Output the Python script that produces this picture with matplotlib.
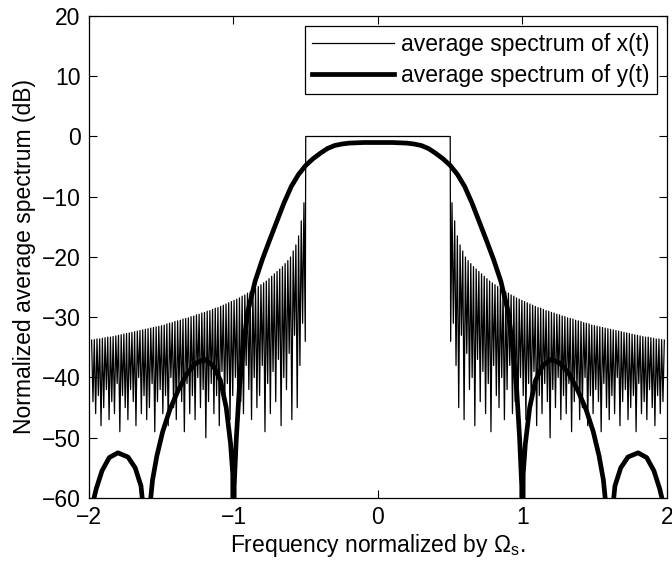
import numpy as np
import matplotlib
matplotlib.use('Agg')
import matplotlib.pyplot as plt

plt.rcParams['font.family'] = ['Liberation Sans', 'DejaVu Sans']
plt.rcParams['mathtext.fontset'] = 'custom'
plt.rcParams['mathtext.rm'] = 'Liberation Sans'
plt.rcParams['mathtext.it'] = 'Liberation Sans:italic'

# sidelobes of x(t), right side from the band edge outwards (mirrored to the left)
x_peaks_db = [-11, -14, -16.5, -18, -19, -20, -20.6, -21.1, -21.6, -22,
              -22.4, -22.8, -23.2, -23.6, -24, -24.3, -24.6, -24.9, -25.2, -25.5,
              -25.8, -26, -26.3, -26.5, -26.8, -27, -27.2, -27.4, -27.6, -27.8,
              -28, -28.2, -28.4, -28.5, -28.7, -28.9, -29, -29.2, -29.3, -29.5,
              -29.6, -29.8, -29.9, -30.1, -30.2, -30.3, -30.5, -30.6, -30.7, -30.9,
              -31, -31.1, -31.3, -31.4, -31.5, -31.6, -31.7, -31.8, -31.9, -32,
              -32.1, -32.2, -32.3, -32.4, -32.5, -32.6, -32.7, -32.8, -32.9, -33,
              -33.1, -33.2, -33.3, -33.3, -33.4, -33.5, -33.6, -33.6, -33.7, -33.8]
x_dips_db = [-34, -31, -38, -45, -33, -47, -36, -42, -40, -48,
             -37, -44, -39, -46, -41, -49, -38, -43, -45, -40,
             -47, -42, -38, -46, -44, -49, -40, -43, -47, -41,
             -45, -39, -48, -43, -46, -41, -44, -50, -42, -45,
             -40, -47, -43, -46, -41, -49, -44, -42, -47, -45,
             -40, -48, -43, -46, -42, -44, -49, -41, -45, -47,
             -43, -46, -40, -48, -44, -42, -47, -45, -43, -49,
             -41, -46, -44, -47, -42, -45, -48, -43, -46, -44]
band_edge = 0.5
lobe_step = 0.0186

# y(t), right half (mirrored)
y_freq = [0, 0.1, 0.2, 0.25, 0.3, 0.35, 0.4, 0.45, 0.5, 0.55, 0.6, 0.65, 0.7, 0.75, 0.8,
          0.85, 0.9, 0.93, 0.96, 0.98, 0.995, 1.0, 1.005, 1.02, 1.05, 1.09, 1.14,
          1.2, 1.26, 1.32, 1.38, 1.44, 1.49, 1.53, 1.56, 1.585, 1.6, 1.615, 1.64,
          1.68, 1.73, 1.8, 1.86, 1.91, 1.95, 1.98, 2.0]
y_db = [-1.0, -1.0, -1.1, -1.25, -1.5, -2.0, -2.8, -3.7, -4.8, -6.3, -8.3, -11, -14.1,
        -17.2, -20.4, -24, -29, -34.5, -42, -50, -58, -90, -56, -51, -45, -40.5,
        -38, -37, -37.6, -39.3, -42, -45.3, -49, -53, -57, -63, -90, -64, -58,
        -55, -53.2, -52.5, -53.3, -55.5, -58.5, -61.5, -64]

# build the x(t) trace: dip, peak, dip, peak ... outwards from the edge
n = len(x_peaks_db)
dip_f = band_edge + 0.003 + lobe_step * np.arange(n)
peak_f = dip_f + lobe_step / 2
side_f = np.empty(2 * n)
side_v = np.empty(2 * n)
side_f[0::2] = dip_f
side_f[1::2] = peak_f
side_v[0::2] = x_dips_db
side_v[1::2] = x_peaks_db

fx = np.concatenate([-side_f[::-1], [-band_edge, band_edge], side_f])
vx = np.concatenate([side_v[::-1], [0, 0], side_v])

fy = np.concatenate([-np.array(y_freq[::-1]), y_freq[1:]])
vy = np.concatenate([y_db[::-1], y_db[1:]])

fig = plt.figure(figsize=(6.72, 5.67), dpi=100)
ax = fig.add_axes([0.1324, 0.1217, 0.8601, 0.8501])

ax.plot(fx, vx, color='black', linewidth=0.9, label='average spectrum of x(t)')
ax.plot(fy, vy, color='black', linewidth=3.4, label='average spectrum of y(t)')

ax.set_xlim(-2, 2)
ax.set_ylim(-60, 20)
ax.set_xticks([-2, -1, 0, 1, 2])
ax.set_yticks(np.arange(-60, 21, 10))
ax.tick_params(direction='in', length=5.5, width=0.8, labelsize=16.5, pad=6,
               top=True, right=True)
for s in ax.spines.values():
    s.set_linewidth(0.9)

ax.set_xlabel(r'Frequency normalized by $\Omega_{\mathrm{s}}$.', fontsize=16.5, labelpad=2)
ax.set_ylabel('Normalized average spectrum (dB)', fontsize=16.5, labelpad=4)

leg = ax.legend(loc='upper right', fontsize=16.5, handlelength=3.6, handletextpad=0.3,
                borderaxespad=0.45, borderpad=0.3, labelspacing=0.35,
                fancybox=False, framealpha=1, edgecolor='black')
leg.get_frame().set_linewidth(0.9)

fig.savefig('out.png', dpi=100)
